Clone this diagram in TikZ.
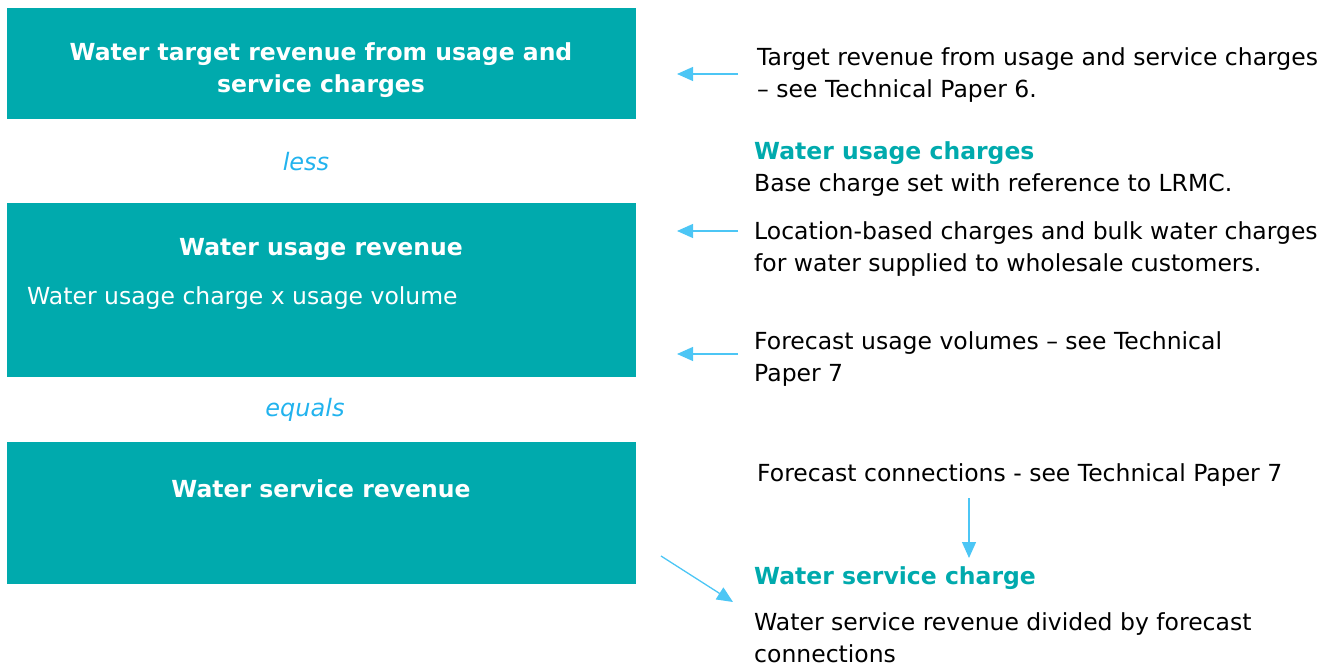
\documentclass[tikz,border=0pt]{standalone}
\usepackage{fontspec}
\setmainfont{DejaVu Sans}
\usetikzlibrary{arrows.meta}
\definecolor{tealc}{HTML}{00AAAD}
\definecolor{lblue}{HTML}{4CC6F5}
\definecolor{itblue}{HTML}{22B3EE}
\tikzset{
  box/.style={fill=tealc, draw=none, minimum width=629pt, anchor=north west, inner sep=0pt},
  boxtitle/.style={text=white, font=\fontsize{23.5}{32}\selectfont\bfseries, align=center, inner sep=0pt},
  boxtext/.style={text=white, font=\fontsize{23.5}{32}\selectfont, inner sep=0pt, anchor=west},
  conn/.style={text=itblue, font=\fontsize{24}{32}\selectfont\itshape, inner sep=0pt},
  rtext/.style={text=black, font=\fontsize{23.5}{32}\selectfont, align=left, anchor=west, inner sep=0pt},
  rhead/.style={text=tealc, font=\fontsize{23.5}{32}\selectfont\bfseries, anchor=west, inner sep=0pt},
  arr/.style={draw=lblue, line width=1.3pt, -{Triangle[length=16pt,width=14pt]}},
}
\begin{document}
\begin{tikzpicture}[x=1pt,y=-1pt]
\useasboundingbox (0,0) rectangle (1333,668);
% boxes
\node[box, minimum height=111pt] (b1) at (7,8) {};
\node[box, minimum height=174pt] (b2) at (7,203) {};
\node[box, minimum height=142pt] (b3) at (7,442) {};
\node[boxtitle] (t1) at (321,70) {Water target revenue from usage and\\service charges};
\node[boxtitle] (t2) at (321,249) {Water usage revenue};
\node[boxtext] (t2b) at (27,298) {Water usage charge x usage volume};
\node[boxtitle] (t3) at (321,489) {Water service revenue};
\node[conn] (less) at (306,162) {less};
\node[conn] (equals) at (305,410) {equals};
% right texts
\node[rtext] (r1) at (757,75) {Target revenue from usage and service charges\\– see Technical Paper 6.};
\node[rhead] (r2h) at (754,153) {Water usage charges};
\node[rtext] (r2) at (754,185) {Base charge set with reference to LRMC.};
\node[rtext] (r3) at (754,249) {Location-based charges and bulk water charges\\for water supplied to wholesale customers.};
\node[rtext] (r4) at (754,359) {Forecast usage volumes – see Technical\\Paper 7};
\node[rtext] (r5) at (757,475) {Forecast connections - see Technical Paper 7};
\node[rhead] (r6h) at (754,578) {Water service charge};
\node[rtext] (r6) at (754,638) {Water service revenue divided by forecast\\connections};
% arrow endpoints
\coordinate (a1s) at (738,74); \coordinate (a1e) at (677,74);
\coordinate (a2s) at (738,231); \coordinate (a2e) at (677,231);
\coordinate (a3s) at (738,354); \coordinate (a3e) at (677,354);
\coordinate (a4s) at (969,498); \coordinate (a4e) at (969,558);
\coordinate (a5s) at (661,556); \coordinate (a5e) at (733,602);
\draw[arr] (a1s) -- (a1e);
\draw[arr] (a2s) -- (a2e);
\draw[arr] (a3s) -- (a3e);
\draw[arr] (a4s) -- (a4e);
\draw[arr] (a5s) -- (a5e);
\end{tikzpicture}
\end{document}
